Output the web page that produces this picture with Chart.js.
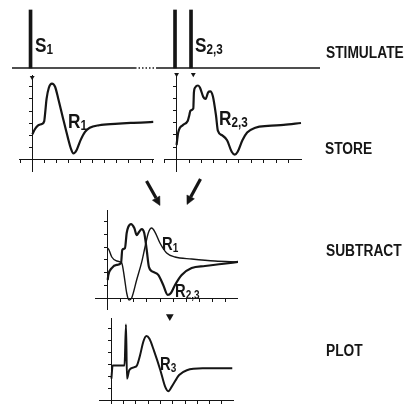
<!DOCTYPE html>
<html><head><meta charset="utf-8">
<script src="https://cdn.jsdelivr.net/npm/chart.js@4.4.1/dist/chart.umd.min.js"></script>
<style>
html,body{margin:0;padding:0;background:#fff;}
#fig{position:relative;width:408px;height:408px;overflow:hidden;background:#fff;}
canvas{position:absolute;display:block;}
.lab{position:absolute;font-family:"Liberation Sans",Arial,Helvetica,sans-serif;font-weight:bold;color:#151515;line-height:1;white-space:nowrap;transform-origin:0 0;}
.step{font-size:16px;transform:scaleX(0.86);}
.big{font-size:21px;transform:scaleX(0.82);}
.mid{font-size:18px;transform:scaleX(0.82);}
.lab sub{font-size:0.68em;vertical-align:-2px;line-height:0;}
</style></head>
<body>
<div id="fig">
  <canvas id="stim" width="308" height="61" style="left:12px;top:8px"></canvas>
  <canvas id="p1" width="142" height="105" style="left:15px;top:70px"></canvas>
  <canvas id="p23" width="145" height="105" style="left:160px;top:70px"></canvas>
  <canvas id="psub" width="143" height="100" style="left:95px;top:210px"></canvas>
  <canvas id="pplot" width="143" height="100" style="left:95px;top:308px"></canvas>

  <svg width="408" height="408" style="position:absolute;left:0;top:0">
    <g stroke="#151515" fill="#151515">
      <line x1="146.5" y1="181" x2="156.1" y2="198" stroke-width="3.2"/>
      <polygon points="160,205.5 152.4,200.2 159.8,196" stroke-width="0.5"/>
      <line x1="200.5" y1="179" x2="190.7" y2="197" stroke-width="3.2"/>
      <polygon points="187,204.5 186.9,195 194.4,198.8" stroke-width="0.5"/>
    </g>
  </svg>

  <div class="lab big" style="left:35px;top:34.3px">S<sub>1</sub></div>
  <div class="lab big" style="left:195px;top:34.3px">S<sub>2,3</sub></div>
  <div class="lab big" style="left:68px;top:110.3px">R<sub>1</sub></div>
  <div class="lab big" style="left:219px;top:107.3px">R<sub>2,3</sub></div>
  <div class="lab mid" style="left:161.5px;top:234.7px">R<sub>1</sub></div>
  <div class="lab mid" style="left:175px;top:281.7px">R<sub>2,3</sub></div>
  <div class="lab mid" style="left:160px;top:354.7px">R<sub>3</sub></div>

  <div class="lab step" style="left:326px;top:45px">STIMULATE</div>
  <div class="lab step" style="left:325px;top:141.4px">STORE</div>
  <div class="lab step" style="left:326px;top:243px">SUBTRACT</div>
  <div class="lab step" style="left:326px;top:343.4px">PLOT</div>
</div>
<script>
// ---------- data (time in tick units, amplitude in tick units) ----------
const stimTimes   = [0, 11.38, 12.64];          // S1, S2, S3
const stimHeights = [1, 1, 1];
const baseT = [-1.46, 8.23, 9.96, 22.8];        // stimulus baseline, break between 8.23 and 9.96
const baseV = [0, 0, 0, 0];

const r1T = [0.02,0.21,0.47,0.81,1.0,1.08,1.2,1.39,1.65,1.91,2.18,2.57,2.97,3.23,3.44,3.7,4.02,4.41,4.8,5.59,6.91,8.21,10.1];
const r1V = [2.09,2.48,2.80,2.94,3.15,3.81,5.0,5.93,6.27,6.01,5.0,3.41,1.83,0.9,0.5,0.77,1.56,2.28,2.62,2.83,2.94,3.02,3.1];

const r23T = [0,0.13,0.51,0.89,1.02,1.11,1.34,1.39,1.49,1.72,1.87,2.15,2.33,2.53,2.7,2.91,3.16,3.31,3.67,4.05,4.42,4.67,4.9,5.28,5.66,6.32,7.33,8.59,9.98];
const r23V = [1.17,2.2,2.83,3.15,3.63,4.02,4.18,5.53,5.93,6.09,5.93,5.13,4.98,5.53,5.61,5.21,3.63,2.36,1.96,1.56,0.61,0.37,0.61,1.56,2.2,2.6,2.75,2.83,2.99];

const sub23T = [0,0.05,0.31,0.69,1.02,1.11,1.32,1.45,1.57,1.78,2.03,2.21,2.39,2.6,2.79,2.98,3.15,3.48,3.86,4.24,4.58,4.83,5.14,5.65,6.41,7.43,8.7,9.97];
const sub23V = [1.46,1.85,2.38,2.62,2.77,3.77,3.92,5.08,5.54,5.77,5.46,4.92,5.15,5.38,5.08,3.77,2.46,2.08,1.85,1.08,0.31,0.46,1.08,1.85,2.38,2.54,2.69,2.85];

const subR1T = [0,0.1,0.31,0.69,1.07,1.27,1.45,1.63,1.83,2.21,2.6,2.85,3.1,3.36,3.61,3.99,4.5,5.14,6.41,8.19,9.97];
const subR1V = [3.92,3.77,3.23,2.92,2.77,1.69,0.46,-0.08,0.08,1.46,2.85,4.0,5.08,5.46,5.15,4.31,3.54,3.23,3.08,2.92,2.85];

const r3T = [0,0.1,1.07,1.19,1.27,1.45,1.83,2.08,2.34,2.6,2.85,3.1,3.48,3.99,4.37,4.63,4.93,5.52,6.15,7.43,9.85];
const r3V = [1.83,2.94,2.94,6.35,1.83,2.54,2.78,2.94,3.81,4.92,5.4,5.16,4.13,2.54,1.19,0.79,1.19,2.14,2.54,2.7,2.7];

const markR1T  = [0];        const markR1V  = [6.78];
const markR23T = [0, 1.34];  const markR23V = [7.0, 7.0];
const markPlotT = [4.76];    const markPlotV = [7.02];

const xTicks = [-1,0,1,2,3,4,5,6,7,8,9,10];
const yTicks = [0,1,2,3,4,5,6];

// ---------- helpers ----------
const INK = '#151515';
const pts = (t, v) => t.map((x, i) => ({x, y: v[i]}));

function trace(t, v, w) {
  return {type:'line', data:pts(t, v), borderColor:INK, borderWidth:w, pointRadius:0,
          cubicInterpolationMode:'monotone', fill:false, clip:false};
}
function marks(t, v, r) {
  return {type:'line', data:pts(t, v), showLine:false, pointStyle:'triangle', rotation:180,
          pointRadius:r, pointBackgroundColor:INK, pointBorderColor:INK, pointBorderWidth:0, clip:false};
}
function axis(min, max, ticks, pos, dash) {
  return {
    type:'linear', min, max, position:pos, offset:false,
    grid:{display:true, drawOnChartArea:false, drawTicks:true, tickLength:3, color:INK, lineWidth:1},
    border:{display:true, color:INK, width:1, dash:dash || []},
    ticks:{display:false},
    afterBuildTicks: sc => { sc.ticks = ticks.filter(v => v >= min && v <= max).map(v => ({value:v})); }
  };
}
function panel(id, datasets, xr, yr, padTop, xDash) {
  return new Chart(document.getElementById(id), {
    type:'line',
    data:{datasets},
    options:{
      responsive:false, animation:false, devicePixelRatio:1, events:[],
      layout:{padding:{top:padTop, left:0, right:0, bottom:0}},
      plugins:{legend:{display:false}, tooltip:{enabled:false}},
      scales:{
        x: axis(xr[0], xr[1], xTicks, {y:0}, xDash),
        y: axis(yr[0], yr[1], yTicks, {x:0})
      }
    }
  });
}

// ---------- stimulus row ----------
new Chart(document.getElementById('stim'), {
  type:'bar',
  data:{datasets:[
    {type:'line', data:pts(baseT, baseV), borderColor:INK, borderWidth:1.5, pointRadius:0,
     segment:{borderDash: c => c.p0DataIndex === 1 ? [1.5, 2] : undefined}},
    {type:'bar', data:pts(stimTimes, stimHeights), backgroundColor:INK, borderWidth:0, barThickness:3}
  ]},
  options:{
    responsive:false, animation:false, devicePixelRatio:1, events:[],
    layout:{padding:0},
    plugins:{legend:{display:false}, tooltip:{enabled:false}},
    scales:{
      x:{type:'linear', display:false, min:-1.46, max:22.8, offset:false},
      y:{type:'linear', display:false, min:-0.017, max:1.034}
    }
  }
});

// ---------- stored responses ----------
panel('p1',  [trace(r1T, r1V, 2.2), marks(markR1T, markR1V, 2.8)], [-1.10, 10.08], [-0.95, 6.98], 5);
panel('p23', [trace(r23T, r23V, 2.2), marks(markR23T, markR23V, 2.8)], [-1.01, 9.98], [-0.98, 6.96], 5);

// ---------- subtraction ----------
panel('psub', [trace(subR1T, subR1V, 1.4), trace(sub23T, sub23V, 2.2)], [-0.97, 9.95], [-0.85, 6.85], 0);

// ---------- plot ----------
panel('pplot', [trace(r3T, r3V, 2.0), marks(markPlotT, markPlotV, 4.5)], [-0.97, 9.95], [-0.24, 6.9], 10, [2, 2]);
</script>
</body></html>
